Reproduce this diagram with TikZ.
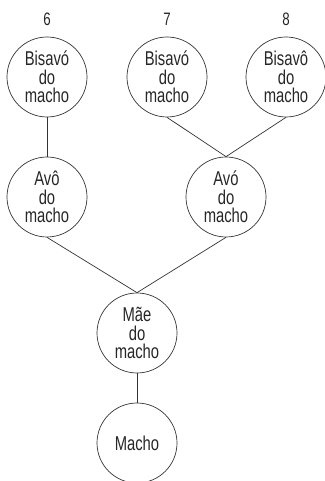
\documentclass[tikz,border=0pt]{standalone}
\usepackage{fontspec}
\setmainfont{Liberation Sans}[FakeStretch=0.74]
\usetikzlibrary{positioning}

\begin{document}
\begin{tikzpicture}[x=1pt, y=1pt,
  ancestor/.style={draw=black!80, line width=0.7pt, circle, minimum size=80pt,
    inner sep=0pt, align=center, text=black!85,
    font=\fontsize{20}{18.5}\selectfont},
  number/.style={inner sep=0pt, text=black!85, font=\fontsize{18}{18}\selectfont}]
  \useasboundingbox (0,0) rectangle (324,481);
  \node[ancestor] (b6) at (47,404) {Bisavó\\do\\macho};
  \node[ancestor] (b7) at (167,404) {Bisavó\\do\\macho};
  \node[ancestor] (b8) at (286,404) {Bisavô\\do\\macho};
  \node[ancestor] (a1) at (47,284) {Avô\\do\\macho};
  \node[ancestor] (a2) at (226,284) {Avó\\do\\macho};
  \node[ancestor] (mae) at (137,148) {Mãe\\do\\macho};
  \node[ancestor] (macho) at (137,38) {Macho};
  \node[number, above=11pt of b6] (n6) {6};
  \node[number, above=11pt of b7] (n7) {7};
  \node[number, above=11pt of b8] (n8) {8};
  \draw[black!80, line width=0.7pt] (b6.south) -- (a1.north);
  \draw[black!80, line width=0.7pt] (b7.south) -- (a2.north);
  \draw[black!80, line width=0.7pt] (b8.south) -- (a2.north);
  \draw[black!80, line width=0.7pt] (a1.south) -- (mae.north);
  \draw[black!80, line width=0.7pt] (a2.south) -- (mae.north);
  \draw[black!80, line width=0.7pt] (mae.south) -- (macho.north);
\end{tikzpicture}
\end{document}
